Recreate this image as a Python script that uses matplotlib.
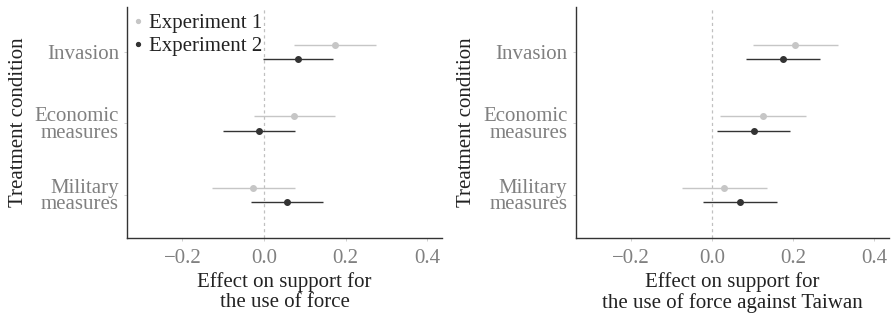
import matplotlib
matplotlib.use("Agg")
import matplotlib.pyplot as plt
import numpy as np

plt.rcParams['font.family'] = ['Liberation Serif', 'DejaVu Serif']

categories = ["Invasion", "Economic\nmeasures", "Military\nmeasures"]
series = ["Experiment 1", "Experiment 2"]

# Panel 1: effect on support for the use of force
p1_est = {"Experiment 1": [0.174, 0.074, -0.026],
          "Experiment 2": [0.083, -0.012, 0.056]}
p1_lo = {"Experiment 1": [0.073, -0.024, -0.127],
         "Experiment 2": [-0.002, -0.100, -0.033]}
p1_hi = {"Experiment 1": [0.274, 0.174, 0.075],
         "Experiment 2": [0.169, 0.075, 0.144]}

# Panel 2: against Taiwan
p2_est = {"Experiment 1": [0.205, 0.125, 0.030],
          "Experiment 2": [0.176, 0.103, 0.069]}
p2_lo = {"Experiment 1": [0.100, 0.021, -0.073],
         "Experiment 2": [0.085, 0.012, -0.022]}
p2_hi = {"Experiment 1": [0.311, 0.231, 0.135],
         "Experiment 2": [0.267, 0.193, 0.160]}

xticks = [-0.2, 0.0, 0.2, 0.4]
xlabels = ["\u22120.2", "0.0", "0.2", "0.4"]
titles = ["Effect on support for\nthe use of force",
          "Effect on support for\nthe use of force against Taiwan"]

colors = {"Experiment 1": "#c6c6c6", "Experiment 2": "#333333"}
offsets = {"Experiment 1": 0.1, "Experiment 2": -0.1}

fig = plt.figure(figsize=(8.94, 3.17), dpi=100)
ax1 = fig.add_axes([0.1424, 0.25, 0.494 - 0.1424, 0.977 - 0.25])
ax2 = fig.add_axes([0.644, 0.25, 0.994 - 0.644, 0.977 - 0.25])

ypos = np.array([3, 2, 1], dtype=float)
FS = 15

for ax, est, lo, hi, xl in [(ax1, p1_est, p1_lo, p1_hi, titles[0]),
                            (ax2, p2_est, p2_lo, p2_hi, titles[1])]:
    ax.axvline(0, color="#c0c0c0", lw=0.9, ls=(0, (2.5, 2.5)), zorder=0)
    for s in series:
        y = ypos + offsets[s]
        ax.hlines(y, lo[s], hi[s], color=colors[s], lw=1.0, zorder=2)
        ax.plot(est[s], y, 'o', color=colors[s], ms=4, zorder=3, label=s)
    ax.set_xlim(-0.335, 0.435)
    ax.set_ylim(0.404, 3.62)
    ax.set_yticks(ypos)
    ax.set_yticklabels(categories, fontsize=FS, color="#808080",
                       linespacing=0.85)
    ax.set_xticks(xticks)
    ax.set_xticklabels(xlabels, fontsize=FS, color="#808080")
    ax.tick_params(axis='both', length=2, width=0.6, color="#c8c8c8")
    ax.tick_params(axis='x', pad=6)
    ax.tick_params(axis='y', pad=4)
    ax.set_xlabel(xl, fontsize=FS, color="#222222", linespacing=1.1,
                  labelpad=3)
    ax.set_ylabel("Treatment condition", fontsize=FS, color="#222222",
                  labelpad=5)
    for side in ["top", "right"]:
        ax.spines[side].set_visible(False)
    for side in ["left", "bottom"]:
        ax.spines[side].set_color("#333333")
        ax.spines[side].set_linewidth(1.0)

leg = ax1.legend(loc="upper left", frameon=False, fontsize=FS,
                 handlelength=0.4, handletextpad=0.3, borderaxespad=0.0,
                 borderpad=0.1, labelspacing=0.15, markerscale=0.7,
                 bbox_to_anchor=(0.015, 0.982))
for t in leg.get_texts():
    t.set_color("#222222")

fig.savefig("out.png", dpi=100)
